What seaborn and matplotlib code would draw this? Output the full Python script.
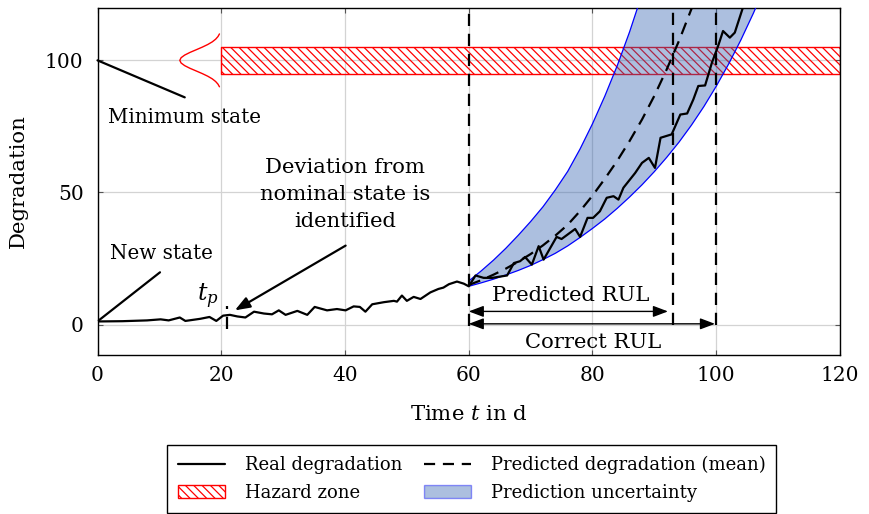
import matplotlib
matplotlib.use("Agg")
import matplotlib.pyplot as plt
import seaborn as sns
import numpy as np
from matplotlib.patches import Patch
from matplotlib.lines import Line2D

# ---------------- data ----------------
t_real = [0, 4, 8, 10.2, 11.5, 13.3, 14.2, 16.6, 18.1, 19.2, 20.3, 21.4, 22.6, 23.9,
          25.3, 26.9, 28.2, 29.3, 30.4, 32.3, 33.9, 35.1, 37.1, 38.7, 40.1, 41.4, 42.4,
          43.3, 44.4, 46.3, 47.9, 48.4, 49.2, 50.0, 51.1, 52.2, 53.8, 55.1, 55.9, 56.8,
          58.1, 59.2, 60.0, 61.1, 62.4, 63.8, 66.2, 67.3, 68.3, 69.1, 70.2, 71.3, 72.1,
          74.2, 75.0, 77.2, 78.0, 79.2, 80.1, 81.2, 82.3, 83.4, 84.2, 85.0, 86.9, 88.0,
          89.1, 90.1, 91.0, 92.8, 94.2, 95.3, 96.3, 97.1, 98.2, 99.3, 100.3, 101.1,
          102.2, 103.0, 104.4, 105.2]
d_real = [1.2, 1.3, 1.6, 2.0, 1.6, 2.7, 1.4, 2.2, 2.9, 1.4, 3.4, 3.7, 3.1, 2.7,
          4.9, 4.2, 3.9, 5.4, 3.7, 5.2, 3.7, 6.7, 5.4, 5.9, 5.4, 6.9, 6.7,
          4.9, 7.7, 8.5, 9.0, 8.7, 11.0, 9.0, 10.5, 9.7, 12.2, 13.5, 14.0, 15.3,
          16.3, 15.5, 14.5, 18.6, 17.7, 17.7, 18.6, 23.3, 24.0, 25.6, 22.7, 29.7, 24.6,
          33.2, 32.4, 36.2, 33.2, 40.4, 40.4, 42.9, 48.0, 48.6, 47.3, 51.8, 57.4, 61.2,
          63.1, 59.3, 70.7, 72.0, 79.5, 79.9, 85.2, 90.3, 90.5, 99.1, 105.4, 111.1,
          108.6, 110.5, 120.6, 125.0]

t_pred = [60, 62, 64, 66, 68, 70, 72, 74, 76, 78, 80, 82, 84, 86, 88, 90, 92, 94,
          96, 98, 100, 102, 104, 106, 108]
d_mean = [15.0, 16.8, 18.9, 21.2, 23.8, 26.7, 30.0, 33.7, 37.8, 43.0, 48.8, 55.2,
          62.0, 69.5, 77.6, 86.6, 96.6, 107.5, 119.5, 133.0, 148.0, 165.0, 184.0,
          205.0, 228.0]
d_upper = [16.5, 20.3, 24.4, 28.9, 33.8, 39.0, 44.6, 51.0, 58.0, 66.5, 76.0, 86.5,
           98.0, 110.8, 125.0, 141.0, 159.0, 179.0, 201.0, 226.0, 254.0, 285.0,
           320.0, 360.0, 405.0]
d_lower = [14.5, 15.8, 17.2, 18.8, 20.5, 22.4, 24.6, 27.0, 29.8, 33.0, 36.4, 40.0,
           44.0, 48.3, 52.9, 57.9, 63.3, 69.1, 75.5, 82.5, 90.2, 98.6, 107.8, 117.8,
           128.7]

hazard_t = [20, 120]
hazard_low, hazard_high = 95, 105

# distribution sketch at the minimum state
gauss_d = [90, 91, 92, 93, 94, 95, 96, 97, 98, 99, 100, 101, 102, 103, 104, 105,
           106, 107, 108, 109, 110]
gauss_t = [19.71, 19.47, 19.09, 18.55, 17.82, 16.93, 15.94, 14.94, 14.09, 13.51,
           13.3, 13.51, 14.09, 14.94, 15.94, 16.93, 17.82, 18.55, 19.09, 19.47, 19.71]

t_p = 21
t_now = 60
t_eol_pred = 93
t_eol_true = 100

x_ticks = [0, 20, 40, 60, 80, 100, 120]
y_ticks = [0, 50, 100]

# ---------------- style ----------------
sns.set_style("ticks")
plt.rcParams["font.family"] = ["DejaVu Serif"]
plt.rcParams["mathtext.fontset"] = "dejavuserif"
plt.rcParams["hatch.linewidth"] = 0.9
for k in ["text.color", "axes.labelcolor", "xtick.color", "ytick.color"]:
    plt.rcParams[k] = "black"

FS_TICK = 14.5
FS_ANN = 14.3
FS_BIG = 15.2
FS_LAB = 15.3
FS_LEG = 13

fig = plt.figure(figsize=(8.69, 5.14), dpi=100)
ax = fig.add_axes([0.1122, 0.3093, 0.8544, 0.6761])

ax.set_xlim(0, 120)
ax.set_ylim(-11.5, 120)
ax.set_xticks(x_ticks)
ax.set_yticks(y_ticks)
ax.grid(True, color="#d3d3d3", lw=0.9, zorder=0)
ax.set_axisbelow(True)
ax.tick_params(direction="in", top=True, right=True, length=3.5, width=0.8,
               color="#555555", labelsize=FS_TICK, labelcolor="black")
ax.tick_params(axis="x", pad=8)
ax.tick_params(axis="y", pad=10)
for s in ax.spines.values():
    s.set_color("black")
    s.set_linewidth(1.0)

# hazard zone
ax.fill_between(hazard_t, hazard_low, hazard_high, facecolor="none",
                edgecolor="red", hatch="\\\\\\\\", lw=1.0, zorder=1)

# prediction uncertainty band
band_c = "#3060b0"
ax.fill_between(t_pred, d_lower, d_upper, facecolor=band_c, alpha=0.4,
                edgecolor="none", zorder=2)
sns.lineplot(x=t_pred, y=d_upper, ax=ax, color="blue", lw=0.9, zorder=3)
sns.lineplot(x=t_pred, y=d_lower, ax=ax, color="blue", lw=0.9, zorder=3)

# gaussian sketch
ax.plot(gauss_t, gauss_d, color="red", lw=1.0, zorder=3)

# real and predicted degradation
dash = (0, (5.5, 3.5))
sns.lineplot(x=t_real, y=d_real, ax=ax, color="black", lw=1.6, zorder=5)
sns.lineplot(x=t_pred, y=d_mean, ax=ax, color="black", lw=1.6, zorder=5,
             linestyle=dash)

# vertical dashed markers
ax.vlines(t_now, -0.5, 120, colors="black", lw=1.6, linestyles=[dash], zorder=6)
ax.vlines(t_eol_pred, 0, 120, colors="black", lw=1.6, linestyles=[dash], zorder=6)
ax.vlines(t_eol_true, 0, 120, colors="black", lw=1.6, linestyles=[dash], zorder=6)
ax.vlines(t_p, -1.6, 7.2, colors="black", lw=1.6, linestyles=[dash], zorder=6)

# RUL arrows
arrow_kw = dict(arrowstyle="<|-|>,head_length=0.45,head_width=0.17",
                color="black", lw=1.0, shrinkA=0, shrinkB=0, mutation_scale=20)
ax.annotate("", xy=(t_eol_pred - 0.8, 5.0), xytext=(t_now, 5.0),
            arrowprops=arrow_kw, zorder=7)
ax.annotate("", xy=(t_eol_true - 0.2, 0.3), xytext=(t_now, 0.3),
            arrowprops=arrow_kw, zorder=7)
ax.text(76.4, 11.0, "Predicted RUL", ha="center", va="center", fontsize=FS_BIG)
ax.text(80.1, -6.8, "Correct RUL", ha="center", va="center", fontsize=FS_BIG)

# annotations
line_kw = dict(arrowstyle="-", color="black", lw=1.6, shrinkA=0, shrinkB=0)
ax.annotate("", xy=(14.1, 86.0), xytext=(0, 100), arrowprops=line_kw)
ax.text(1.7, 78.4, "Minimum state", ha="left", va="center", fontsize=FS_ANN)
ax.annotate("", xy=(10.1, 19.8), xytext=(0.2, 1.6), arrowprops=line_kw)
ax.text(2.1, 27.0, "New state", ha="left", va="center", fontsize=FS_ANN)
ax.annotate("", xy=(22.2, 5.4), xytext=(40.1, 29.9),
            arrowprops=dict(arrowstyle="-|>,head_length=0.45,head_width=0.17",
                            color="black", lw=1.6, shrinkA=0, shrinkB=0,
                            mutation_scale=20))
ax.text(40.0, 49.2, "Deviation from\nnominal state is\nidentified", ha="center",
        va="center", fontsize=FS_BIG, linespacing=1.52)
ax.text(17.8, 10.6, "$t_p$", ha="center", va="center", fontsize=17)

ax.set_xlabel("Time $t$ in d", fontsize=FS_LAB, labelpad=14)
ax.set_ylabel("Degradation", fontsize=FS_LAB, labelpad=12)

handles = [
    Line2D([], [], color="black", lw=1.6),
    Patch(facecolor="none", edgecolor="red", hatch="\\\\\\\\", lw=1.0),
    Line2D([], [], color="black", lw=1.6, linestyle=(0, (5, 3.5))),
    Patch(facecolor=band_c, edgecolor="blue", alpha=0.4, lw=1.0),
]
labels = ["Real degradation", "Hazard zone", "Predicted degradation (mean)",
          "Prediction uncertainty"]
leg = fig.legend(handles, labels, ncol=2, loc="upper center",
                 bbox_to_anchor=(0.543, 0.152), fontsize=FS_LEG, frameon=True,
                 fancybox=False, edgecolor="black", framealpha=1,
                 handlelength=2.6, handletextpad=1.1, columnspacing=1.2,
                 labelspacing=0.55, borderpad=0.6)
leg.get_frame().set_linewidth(1.0)

fig.savefig("out.png", dpi=100)
